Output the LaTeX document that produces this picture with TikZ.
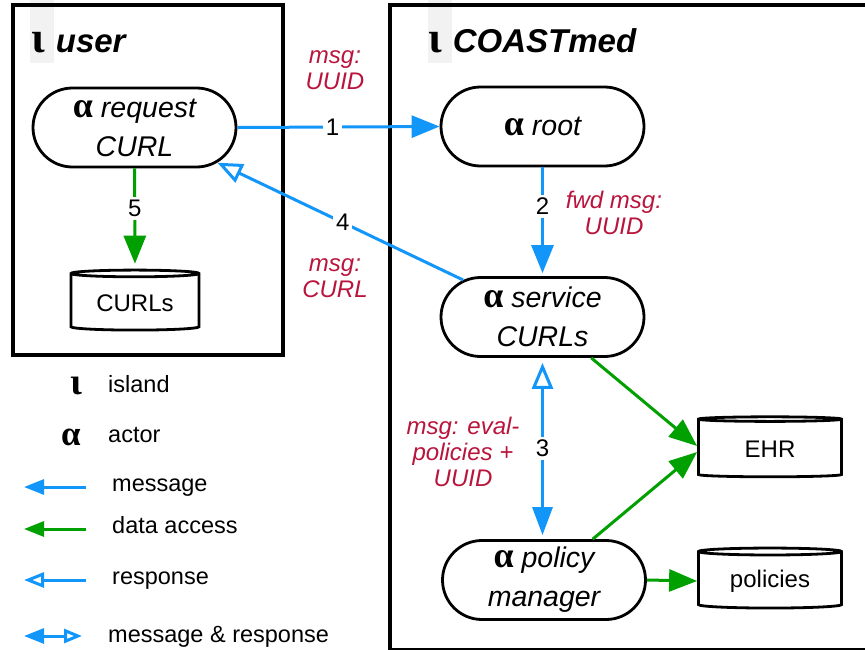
\documentclass[tikz,border=0pt]{standalone}
\usepackage{fontspec}
\setmainfont{Liberation Sans}
\newfontfamily\grkfont{Liberation Serif}
\usetikzlibrary{arrows.meta,shapes.geometric,shapes.misc}
\definecolor{msgblue}{RGB}{18,150,250}
\definecolor{datagreen}{RGB}{0,160,0}
\definecolor{notered}{RGB}{185,20,60}
\newcommand{\islsym}[1][44]{{\grkfont\bfseries\upshape\fontsize{#1}{#1}\selectfont ι}}
\newcommand{\actsym}[1][36]{{\grkfont\bfseries\upshape\fontsize{#1}{#1}\selectfont α}}

\begin{document}
\begin{tikzpicture}[x=1pt,y=-1pt,
    island/.style={draw,line width=3.5pt},
    actor/.style={rounded rectangle,draw,line width=2.8pt,fill=white,minimum width=203pt,minimum height=79pt,inner sep=0pt,align=center,font=\fontsize{28.5}{39}\selectfont\itshape},
    store/.style={cylinder,shape border rotate=90,aspect=0.08,draw,line width=2.8pt,fill=white,minimum width=143pt,minimum height=60pt,font=\fontsize{24}{26}\selectfont},
    msg/.style={draw=msgblue,line width=3pt,-{Triangle[length=28pt,width=22pt]}},
    resp/.style={draw=msgblue,line width=3pt,-{Triangle[open,length=25pt,width=20pt]}},
    data/.style={draw=datagreen,line width=3pt,-{Triangle[length=28pt,width=22pt]}},
    num/.style={fill=white,inner sep=3pt,font=\fontsize{24}{26}\selectfont},
    note/.style={text=notered,align=center,font=\fontsize{24}{26}\selectfont\itshape},
    legtxt/.style={anchor=west,inner sep=0pt,text height=17pt,text depth=5pt,font=\fontsize{23.5}{26}\selectfont}]
    \useasboundingbox (0,0) rectangle (865,649);
    \clip (0,0) rectangle (865,649);
    % islands
    \fill[black!5] (30,0) rectangle (54,63);
    \fill[black!5] (428,0) rectangle (452,63);
    \draw[island] (13,5) rectangle (283,355);
    \draw[island] (390,5) rectangle (880,649.5);
    \node[anchor=base west,inner sep=0pt,font=\fontsize{33}{38}\selectfont] (userhead) at (31,52) {\islsym\hspace{11pt}\textbf{\textit{user}}};
    \node[anchor=base west,inner sep=0pt,font=\fontsize{33}{38}\selectfont] (coasthead) at (428,52) {\islsym\hspace{11pt}\textbf{\textit{COASTmed}}};
    % actors
    \node[actor] (req) at (134.5,127.5) {\actsym\ request\\CURL};
    \node[actor] (root) at (542.5,126.5) {\actsym\ root};
    \node[actor] (svc) at (542.5,317) {\actsym\ service\\CURLs};
    \node[actor] (pol) at (544,580) {\actsym\ policy\\manager};
    % stores
    \node[store,minimum width=128pt] (curls) at (135,303) {CURLs};
    \node[store] (ehr) at (770,449) {EHR};
    \node[store] (pols) at (770,581) {policies};
    % messages
    \draw[msg] (req.east) -- node[num,pos=0.47] (n1) {1} (root.west);
    \draw[msg,shorten >=3pt] (root.south) -- node[num,pos=0.36] (n2) {2} (svc.north);
    \draw[resp] (svc.155) -- node[num,pos=0.49] (n4) {4} (req.-23);
    \draw[msg,{Triangle[open,length=26pt,width=21pt]}-{Triangle[length=28pt,width=20pt]},shorten <=5pt,shorten >=4pt] (svc.south) -- node[num,pos=0.5] (n3) {3} (svc.south |- pol.north);
    % data access
    \draw[data,shorten >=5pt] (req.south) -- node[num,pos=0.4] (n5) {5} (curls.north);
    \draw[data] (svc.-40) -- ([yshift=3pt]ehr.west);
    \draw[data] (pol.40) -- ([yshift=-3pt]ehr.west);
    \draw[data] (pol.east) -- (pols.west);
    % message contents
    \node[note] (c1) at (335,70) {msg:\\UUID};
    \node[note] (c2) at (614,213) {fwd msg:\\UUID};
    \node[note] (c4) at (335,278) {msg:\\CURL};
    \node[note] (c3) at (463,452) {msg: eval-\\policies +\\UUID};
    % legend
    \node[inner sep=0pt] (legisl) at (76,386) {\islsym[38]};
    \node[legtxt] (legtxti) at (108,386) {island};
    \node[inner sep=0pt] (legact) at (71,437) {\actsym[35]};
    \node[legtxt] (legtxtact) at (108,436) {actor};
    \foreach \n/\y/\sty/\tip/\txt in {a/487/msg/{Triangle[length=20pt,width=15pt]}/message,
        b/529/data/{Triangle[length=20pt,width=15pt]}/data access,
        c/580/resp/{Triangle[open,length=20pt,width=15pt]}/response} {
        \coordinate (leg\n1) at (86,\y);
        \coordinate (leg\n2) at (24,\y);
        \draw[\sty,-\tip] (leg\n1) -- (leg\n2);
        \node[legtxt] (legtxt\n) at (112,\y-2) {\txt};
    }
    \coordinate (legd1) at (24,636);
    \coordinate (legd2) at (82,636);
    \draw[msg,{Triangle[length=20pt,width=15pt]}-{Triangle[open,length=18pt,width=14pt]}] (legd1) -- (legd2);
    \node[legtxt] (legtxtd) at (108,636) {message \& response};
\end{tikzpicture}
\end{document}
